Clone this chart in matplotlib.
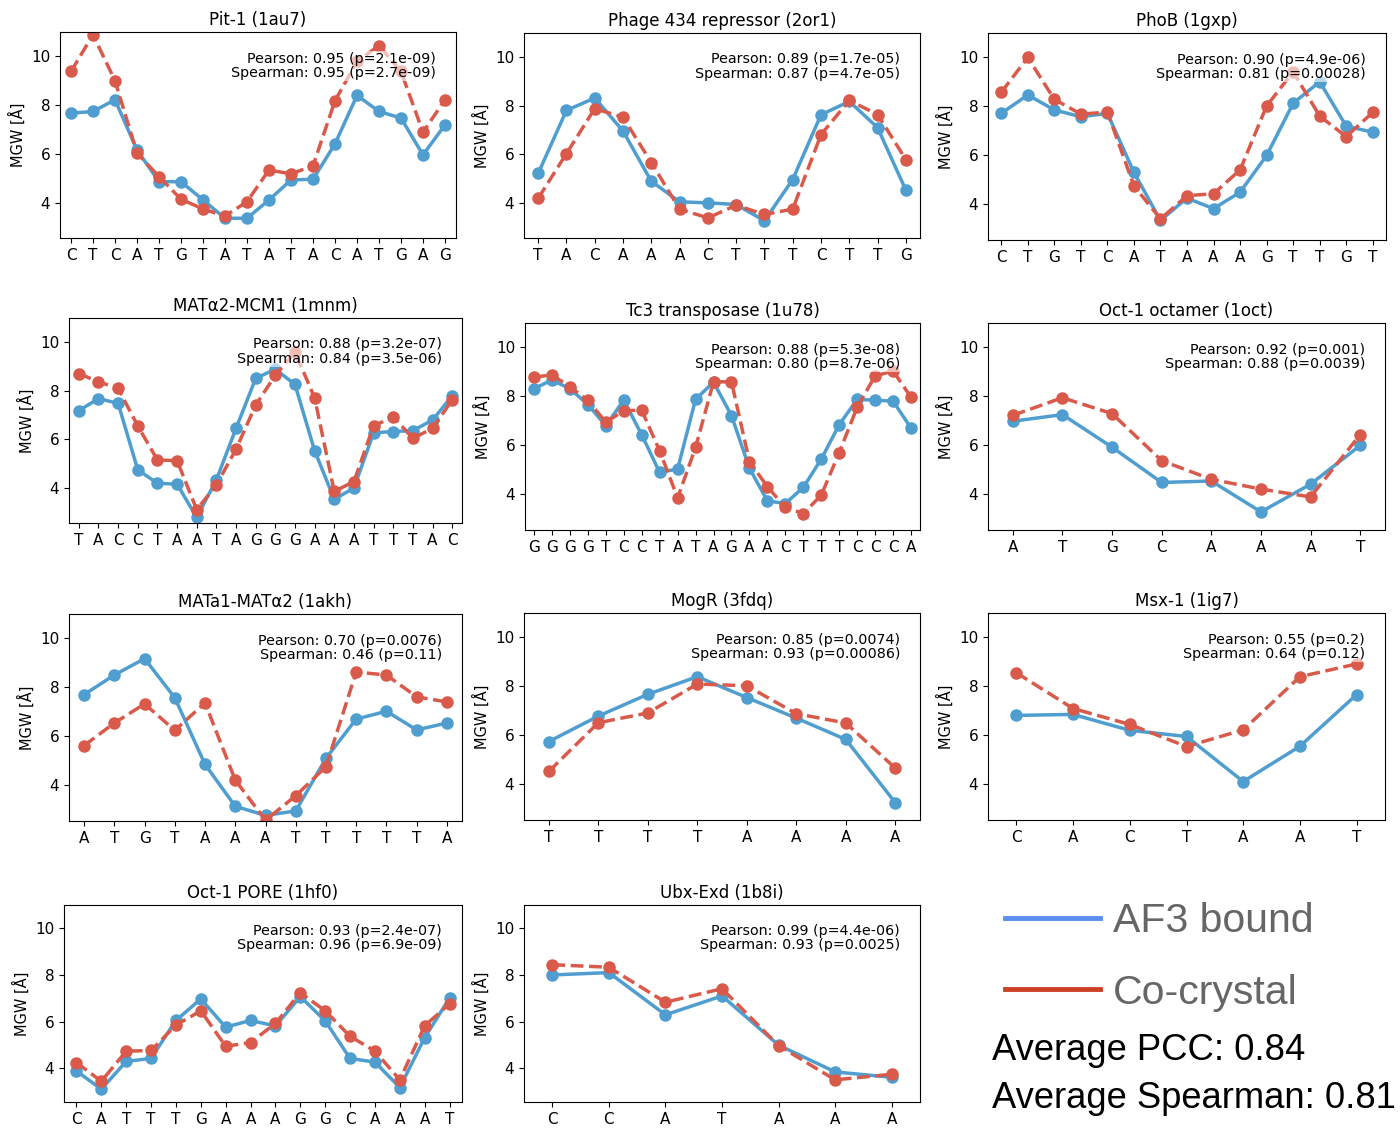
import matplotlib
matplotlib.use("Agg")
import matplotlib.pyplot as plt
from matplotlib.lines import Line2D

# Panel titles, sequences and MGW profiles (AF3 bound vs co-crystal)
titles = ["Pit-1 (1au7)", "Phage 434 repressor (2or1)", "PhoB (1gxp)",
          "MATα2-MCM1 (1mnm)", "Tc3 transposase (1u78)", "Oct-1 octamer (1oct)",
          "MATa1-MATα2 (1akh)", "MogR (3fdq)", "Msx-1 (1ig7)",
          "Oct-1 PORE (1hf0)", "Ubx-Exd (1b8i)"]

sequences = ["CTCATGTATATACATGAG", "TACAAACTTTCTTG", "CTGTCATAAAGTTGT",
             "TACCTAATAGGGAAATTTAC", "GGGGTCCTATAGAACTTTCCCA", "ATGCAAAT",
             "ATGTAAATTTTTA", "TTTTAAAA", "CACTAAT",
             "CATTTGAAAGGCAAAT", "CCATAAA"]

af3_bound = [
    [7.67, 7.74, 8.22, 6.16, 4.86, 4.86, 4.11, 3.36, 3.36, 4.11, 4.93, 4.96, 6.41, 8.40, 7.74, 7.47, 5.96, 7.19],
    [5.21, 7.81, 8.32, 6.96, 4.89, 4.04, 4.00, 3.93, 3.26, 4.96, 7.63, 8.18, 7.10, 4.52],
    [7.72, 8.47, 7.86, 7.58, 7.72, 5.31, 3.35, 4.26, 3.83, 4.50, 6.00, 8.13, 9.01, 7.20, 6.95],
    [7.18, 7.68, 7.48, 4.74, 4.19, 4.15, 2.78, 4.33, 6.45, 8.51, 8.89, 8.26, 5.53, 3.53, 3.99, 6.27, 6.32, 6.36, 6.79, 7.79],
    [8.32, 8.67, 8.32, 7.67, 6.81, 7.85, 6.44, 4.90, 5.04, 7.88, 8.59, 7.22, 5.07, 3.74, 3.63, 4.29, 5.44, 6.85, 7.88, 7.85, 7.81, 6.71],
    [6.99, 7.26, 5.93, 4.49, 4.55, 3.29, 4.42, 6.00],
    [7.71, 8.51, 9.18, 7.58, 4.86, 3.15, 2.78, 2.96, 5.11, 6.71, 7.03, 6.27, 6.55],
    [5.75, 6.79, 7.68, 8.40, 7.55, 6.71, 5.84, 3.26],
    [6.82, 6.86, 6.21, 5.96, 4.12, 5.56, 7.67],
    [3.88, 3.10, 4.29, 4.42, 6.05, 6.97, 5.76, 6.05, 5.81, 7.07, 6.03, 4.42, 4.26, 3.17, 5.31, 7.01],
    [8.00, 8.10, 6.29, 7.10, 4.99, 3.84, 3.61],
]

co_crystal = [
    [9.38, 10.89, 9.00, 6.03, 5.07, 4.14, 3.74, 3.45, 4.04, 5.34, 5.18, 5.51, 8.18, 9.79, 10.44, 9.38, 6.89, 8.22],
    [4.18, 6.03, 7.88, 7.53, 5.66, 3.74, 3.38, 3.90, 3.52, 3.74, 6.81, 8.22, 7.64, 5.78],
    [8.58, 10.00, 8.29, 7.69, 7.77, 4.76, 3.41, 4.36, 4.44, 5.41, 8.02, 9.42, 7.61, 6.77, 7.76],
    [8.71, 8.37, 8.10, 6.55, 5.15, 5.12, 3.10, 4.12, 5.59, 7.41, 8.64, 9.60, 7.71, 3.85, 4.26, 6.55, 6.93, 6.04, 6.45, 7.62],
    [8.79, 8.88, 8.40, 7.84, 6.95, 7.42, 7.44, 5.78, 3.86, 5.92, 8.60, 8.60, 5.34, 4.32, 3.47, 3.22, 3.97, 5.71, 7.56, 8.84, 9.04, 7.97],
    [7.23, 7.95, 7.30, 5.38, 4.62, 4.22, 3.90, 6.44],
    [5.63, 6.55, 7.33, 6.25, 7.37, 4.22, 2.58, 3.58, 4.77, 8.63, 8.51, 7.62, 7.41],
    [4.53, 6.52, 6.92, 8.10, 8.03, 6.89, 6.51, 4.67],
    [8.56, 7.10, 6.45, 5.55, 6.23, 8.40, 8.92],
    [4.24, 3.44, 4.73, 4.76, 5.85, 6.46, 4.94, 5.10, 5.92, 7.24, 6.46, 5.37, 4.73, 3.50, 5.82, 6.76],
    [8.44, 8.33, 6.83, 7.41, 4.97, 3.50, 3.74],
]

pearson_r = ["0.95", "0.89", "0.90", "0.88", "0.88", "0.92", "0.70", "0.85", "0.55", "0.93", "0.99"]
pearson_p = ["2.1e-09", "1.7e-05", "4.9e-06", "3.2e-07", "5.3e-08", "0.001", "0.0076", "0.0074", "0.2", "2.4e-07", "4.4e-06"]
spearman_r = ["0.95", "0.87", "0.81", "0.84", "0.80", "0.88", "0.46", "0.93", "0.64", "0.96", "0.93"]
spearman_p = ["2.7e-09", "4.7e-05", "0.00028", "3.5e-06", "8.7e-06", "0.0039", "0.11", "0.00086", "0.12", "6.9e-09", "0.0025"]

avg_pcc = "0.84"
avg_spearman = "0.81"

# axes boxes in pixels: left, top, right, bottom
boxes = [(60, 32, 456, 238), (524, 33, 920, 238), (988, 33, 1386, 240),
         (69, 318, 462, 523), (525, 323, 920, 530), (988, 323, 1385, 530),
         (69, 614, 462, 821), (524, 613, 920, 820), (988, 613, 1385, 820),
         (64, 905, 462, 1102), (524, 905, 920, 1102)]

W, H = 1400, 1130
blue = "#4f9ecf"
red = "#d95a4b"

fig = plt.figure(figsize=(W / 100, H / 100), dpi=100)

for i, (l, t, r, b) in enumerate(boxes):
    ax = fig.add_axes([l / W, 1 - b / H, (r - l) / W, (b - t) / H])
    x = range(len(sequences[i]))
    ax.plot(x, af3_bound[i], "-o", color=blue, lw=2.5, ms=8)
    ax.plot(x, co_crystal[i], "--o", color=red, lw=2.5, ms=8)
    ax.set_xticks(list(x))
    ax.set_xticklabels(list(sequences[i]), fontsize=11)
    ax.set_yticks([4, 6, 8, 10])
    ax.tick_params(axis="y", labelsize=11)
    ax.set_xlim(-0.5, len(sequences[i]) - 0.5)
    ax.set_ylim(2.55, 11.0)
    ax.set_ylabel("MGW [Å]", fontsize=10.5)
    ax.set_title(titles[i], fontsize=12, pad=5)
    txt = "Pearson: %s (p=%s)\nSpearman: %s (p=%s)" % (
        pearson_r[i], pearson_p[i], spearman_r[i], spearman_p[i])
    ax.text(0.95, 0.905, txt, transform=ax.transAxes, ha="right", va="top",
            fontsize=10.3, multialignment="right", linespacing=1.05,
            bbox=dict(facecolor="white", alpha=0.6, edgecolor="none", pad=0.5))

# legend and averages in the empty cell
handles = [Line2D([], [], color="#5a8ff0", lw=3.5),
           Line2D([], [], color="#cc4125", lw=3.5)]
fig.legend(handles, ["AF3 bound", "Co-crystal"], loc="upper left",
           bbox_to_anchor=(1005 / W, 1 - 902 / H), frameon=False,
           prop={"family": "Liberation Sans", "size": 29.5}, labelcolor="#666666",
           handlelength=2.33, handletextpad=0.3, labelspacing=0.82,
           borderpad=0, borderaxespad=0)

fig.text(992 / W, 1 - 1050 / H, "Average PCC: " + avg_pcc, fontsize=26.2,
         family="Liberation Sans", va="center", ha="left")
fig.text(992 / W, 1 - 1099 / H, "Average Spearman: " + avg_spearman, fontsize=26.2,
         family="Liberation Sans", va="center", ha="left")

fig.savefig("out.png", dpi=100)
